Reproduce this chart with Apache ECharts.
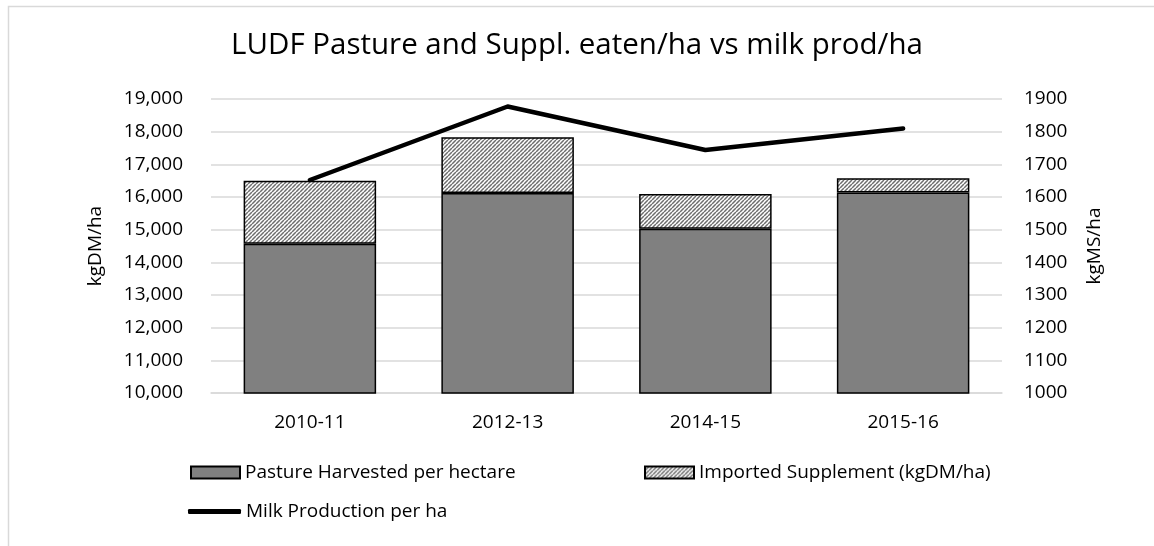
<!DOCTYPE html>
<html>
<head>
<meta charset="utf-8">
<script src="https://cdn.jsdelivr.net/npm/echarts@6/dist/echarts.min.js"></script>
<style>
  html, body { margin: 0; padding: 0; background: #fff; }
  #chart { width: 1154px; height: 546px; }
</style>
</head>
<body>
<div id="chart"></div>
<script>
// Seasons and per-hectare figures
const seasons = ['2010-11', '2012-13', '2014-15', '2015-16'];
const pastureHarvested = [14570, 16120, 15030, 16135];   // kgDM/ha
const importedSupplement = [1930, 1710, 1060, 440];      // kgDM/ha
const milkProduction = [1652, 1877, 1744, 1810];         // kgMS/ha

const FONT = '"Open Sans", "DejaVu Sans", sans-serif';

// Diagonal hatch used for the supplement fill
function makeHatch() {
  const n = 4;
  const c = document.createElement('canvas');
  c.width = n; c.height = n;
  const g = c.getContext('2d');
  g.fillStyle = '#ffffff';
  g.fillRect(0, 0, n, n);
  g.strokeStyle = '#6e6e6e';
  g.lineWidth = 1.5;
  g.beginPath();
  for (let k = -n; k <= n; k += n) {
    g.moveTo(k, n);
    g.lineTo(k + n, 0);
  }
  g.stroke();
  return c;
}
const hatch = { image: makeHatch(), repeat: 'repeat' };

const chart = echarts.init(document.getElementById('chart'));
const textBase = { fontFamily: FONT, color: '#000', fontSize: 19 };

chart.setOption({
  animation: false,
  backgroundColor: '#ffffff',
  title: {
    text: 'LUDF Pasture and Suppl. eaten/ha vs milk prod/ha',
    left: 'center',
    top: 26,
    textStyle: { fontFamily: FONT, fontSize: 29.5, fontWeight: 'normal', color: '#000' }
  },
  graphic: [
    { type: 'polyline', shape: { points: [[8.5, 546], [8.5, 6.5], [1154, 6.5]] },
      style: { stroke: '#d9d9d9', lineWidth: 1.5, fill: null } }
  ],
  legend: [
    { data: [{ name: 'Pasture Harvested per hectare', icon: 'rect' }],
      left: 185, top: 458, itemWidth: 49, itemHeight: 12, textStyle: textBase },
    { data: [{ name: 'Imported Supplement (kgDM/ha)', icon: 'rect', itemStyle: { color: hatch } }],
      left: 639, top: 458, itemWidth: 49, itemHeight: 12, textStyle: textBase },
    { data: [{ name: 'Milk Production per ha', icon: 'roundRect',
               itemStyle: { color: '#000', borderWidth: 0 } }],
      left: 183, top: 497, itemWidth: 53, itemHeight: 5, textStyle: textBase }
  ],
  grid: { left: 211, right: 152, top: 99, bottom: 153 },
  xAxis: {
    type: 'category',
    data: seasons,
    axisLine: { lineStyle: { color: '#d9d9d9', width: 1.5 } },
    axisTick: { show: false },
    axisLabel: { ...textBase, margin: 20 }
  },
  yAxis: [
    {
      type: 'value', min: 10000, max: 19000, interval: 1000,
      name: 'kgDM/ha', nameLocation: 'middle', nameGap: 106, nameRotate: 90,
      nameTextStyle: textBase,
      axisLine: { show: false }, axisTick: { show: false },
      axisLabel: { ...textBase, margin: 28,
        formatter: v => v.toLocaleString('en-US') },
      splitLine: { lineStyle: { color: '#d9d9d9', width: 1.5 } }
    },
    {
      type: 'value', min: 1000, max: 1900, interval: 100,
      name: 'kgMS/ha', nameLocation: 'middle', nameGap: 83, nameRotate: 90,
      nameTextStyle: textBase,
      axisLine: { show: false }, axisTick: { show: false },
      axisLabel: { ...textBase, margin: 22, formatter: v => String(v) },
      splitLine: { show: false }
    }
  ],
  series: [
    {
      name: 'Pasture Harvested per hectare', type: 'bar', stack: 'feed',
      data: pastureHarvested, barCategoryGap: '33%',
      itemStyle: { color: '#808080', borderColor: '#000', borderWidth: 1.5 }
    },
    {
      name: 'Imported Supplement (kgDM/ha)', type: 'bar', stack: 'feed',
      data: importedSupplement, barCategoryGap: '33%',
      itemStyle: { color: hatch, borderColor: '#000', borderWidth: 1.5 }
    },
    {
      name: 'Milk Production per ha', type: 'line', yAxisIndex: 1,
      data: milkProduction, symbol: 'none', showSymbol: false,
      lineStyle: { color: '#000', width: 4.5, cap: 'round', join: 'round' },
      itemStyle: { color: '#000' }
    }
  ]
});
</script>
</body>
</html>
